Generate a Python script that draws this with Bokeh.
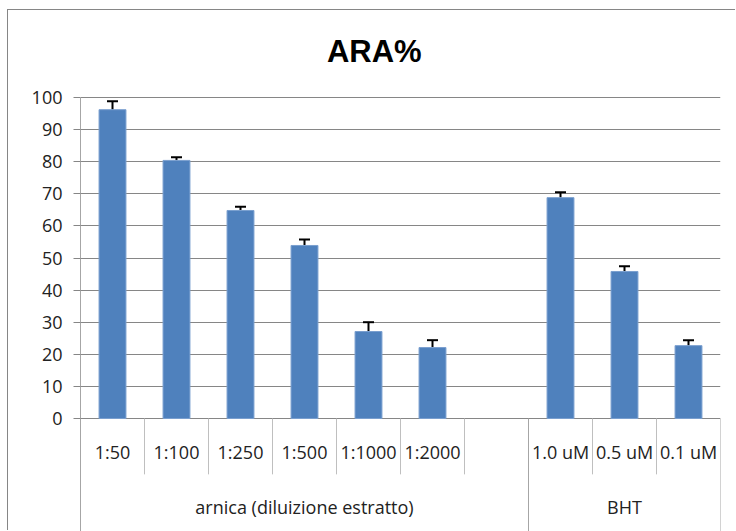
from bokeh.plotting import figure
from bokeh.models import Range1d, FixedTicker, ColumnDataSource, Whisker, TeeHead
from bokeh.core.properties import value
from bokeh.embed import file_html
from bokeh.resources import INLINE

# ---- data ----
title_text = "ARA%"
group_names = ["arnica (diluizione estratto)", "BHT"]
arnica_labels = ["1:50", "1:100", "1:250", "1:500", "1:1000", "1:2000", ""]
arnica_values = [96.2, 80.4, 64.8, 53.9, 27.1, 22.1, None]
arnica_errors = [2.6, 1.0, 1.2, 1.9, 2.9, 2.3, None]
bht_labels = ["1.0 uM", "0.5 uM", "0.1 uM"]
bht_values = [68.8, 45.8, 22.7]
bht_errors = [1.7, 1.6, 1.7]
y_ticks = [0, 10, 20, 30, 40, 50, 60, 70, 80, 90, 100]

# ---- build ----
labels = arnica_labels + bht_labels
vals = arnica_values + bht_values
errs = arnica_errors + bht_errors
group_sizes = [len(arnica_labels), len(bht_labels)]
n = len(labels)

xs, tops, uppers = [], [], []
for i, (v, e) in enumerate(zip(vals, errs)):
    if v is None:
        continue
    xs.append(i + 0.5)
    tops.append(v)
    uppers.append(v + e)
src = ColumnDataSource(dict(x=xs, top=tops, upper=uppers))

FONT = "Open Sans"
FS = "18px"
px_per_unit = 3.21
fig_h = 521
top_gap = 87          # px between figure top and the 100 gridline
y_max = 100 + top_gap / px_per_unit
y_min = y_max - fig_h / px_per_unit

p = figure(width=728, height=fig_h, output_backend="svg", toolbar_location=None,
           x_range=Range1d(0, n), y_range=Range1d(y_min, y_max),
           x_axis_location=None,
           min_border_left=72, min_border_right=16, min_border_top=0, min_border_bottom=0)
p.styles = {"margin-left": "8px", "margin-top": "10px",
            "box-shadow": "-1px -1px 0 0 #868686"}
p.outline_line_color = None
p.background_fill_color = "white"
p.border_fill_color = "white"

ax = p.yaxis[0]
ax.ticker = FixedTicker(ticks=y_ticks)
ax.bounds = (y_min, 100)
ax.axis_line_color = "#a6a6a6"
ax.major_tick_line_color = "#868686"
ax.major_tick_out = 7
ax.major_tick_in = 0
ax.minor_tick_line_color = None
ax.major_label_standoff = 11
ax.major_label_text_font = FONT
ax.major_label_text_font_size = FS
ax.major_label_text_color = "#222222"

p.xgrid.visible = False
p.ygrid.ticker = FixedTicker(ticks=y_ticks)
p.ygrid.grid_line_color = "#868686"

# title
p.text(x=[n * 0.459], y=[100 + 46 / px_per_unit], text=[title_text],
       text_font=value("Liberation Sans"), text_font_size="31px", text_font_style="bold",
       text_color="black", text_align="center", text_baseline="alphabetic")

p.vbar(x="x", top="top", bottom=0, width=0.42, source=src,
       fill_color="#4f81bd", line_color="#7a9fcf", line_width=1)
p.add_layout(Whisker(source=src, base="x", lower="top", upper="upper",
                     line_color="black", line_width=2,
                     upper_head=TeeHead(size=11, line_color="black", line_width=2),
                     lower_head=None))

# category axis (multi-level) drawn below zero
cat_y = -10.3
grp_y = -27.7
sep_short = -17.4
p.text(x=[i + 0.5 for i in range(n)], y=[cat_y] * n, text=labels,
       text_font=value(FONT), text_font_size=FS, text_color="#222222",
       text_align="center", text_baseline="middle")

short_x, full_x = [], []
start = 0
grp_centers = []
for g in group_sizes:
    full_x.append(start)
    for k in range(1, g):
        short_x.append(start + k)
    grp_centers.append(start + g / 2)
    start += g
full_x.append(start)
p.segment(x0=short_x, x1=short_x, y0=[0] * len(short_x), y1=[sep_short] * len(short_x),
          line_color="#bfbfbf", line_width=1)
p.segment(x0=full_x[1:], x1=full_x[1:], y0=[0] * (len(full_x) - 1), y1=[y_min] * (len(full_x) - 1),
          line_color="#a6a6a6", line_width=1)
p.text(x=grp_centers, y=[grp_y] * len(grp_centers), text=group_names,
       text_font=value(FONT), text_font_size=FS, text_color="#222222",
       text_align="center", text_baseline="middle")

open("out.html", "w").write(file_html(p, INLINE))
